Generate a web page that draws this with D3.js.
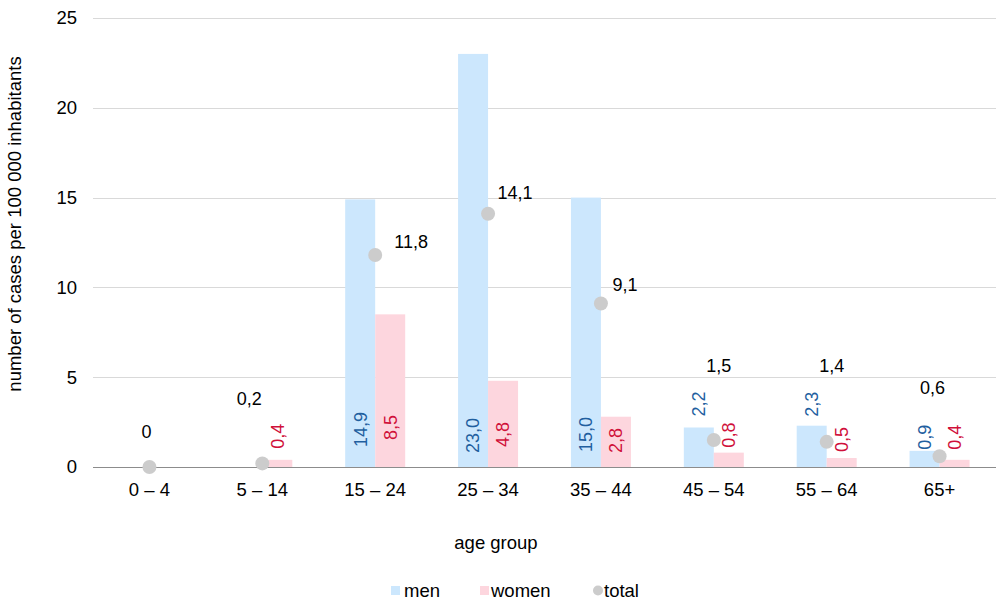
<!DOCTYPE html>
<html>
<head>
<meta charset="utf-8">
<script src="https://cdn.jsdelivr.net/npm/d3@7"></script>
<style>
  html, body { margin: 0; padding: 0; background: #fff; }
  svg { display: block; font-family: "Liberation Sans", Arial, sans-serif; }
</style>
</head>
<body>
<svg id="chart" width="997" height="603"></svg>
<script>
// Incidence per 100 000 inhabitants by age group
const ageGroups = ["0 – 4", "5 – 14", "15 – 24", "25 – 34", "35 – 44", "45 – 54", "55 – 64", "65+"];
const men   = [0, 0, 14.9, 23.0, 15.0, 2.2, 2.3, 0.9];
const women = [0, 0.4, 8.5, 4.8, 2.8, 0.8, 0.5, 0.4];
const total = [0, 0.2, 11.8, 14.1, 9.1, 1.5, 1.4, 0.6];
const yTicks = [0, 5, 10, 15, 20, 25];

// Hand-placed label positions.
// total labels: (dx, dy) of the label centre from its marker
const totalLabelOffset = [[-3, -35], [-13, -65], [36, -13], [27, -21], [24, -19], [5, -74], [5, -76], [-7, -69]];
// bar labels: tall bars -> distance of text start above baseline; short bars -> gap above bar top
const menLabelShift   = [0, 0, 20, 14, 15, 11, 9, 1];
const womenLabelShift = [0, 11, 27, 20, 14, 5, 6, 10];

const fmt = v => v === 0 ? "0" : v.toFixed(1).replace(".", ",");

const svg = d3.select("#chart");
const margin = { left: 93, right: 1, top: 18, bottom: 136 };
const W = 997, H = 603;
const plotBottom = H - margin.bottom; // 467

const x = d3.scaleBand().domain(ageGroups).range([margin.left, W - margin.right]);
const y = d3.scaleLinear().domain([0, 25]).range([plotBottom, margin.top]);
const barW = 30;
const cx = i => x(ageGroups[i]) + x.bandwidth() / 2;

// Gridlines
svg.append("g")
  .selectAll("line").data(yTicks.filter(t => t > 0)).join("line")
  .attr("x1", margin.left).attr("x2", W - margin.right)
  .attr("y1", d => Math.round(y(d)) + 0.5).attr("y2", d => Math.round(y(d)) + 0.5)
  .attr("stroke", "#d9d9d9").attr("stroke-width", 1);

// Y tick labels
svg.append("g")
  .selectAll("text").data(yTicks).join("text")
  .attr("x", 77).attr("y", d => y(d)).attr("dy", "0.35em")
  .attr("text-anchor", "end").attr("font-size", 18.5).attr("fill", "#000")
  .text(d => d);

const idx = d3.range(ageGroups.length);

// Bars: men
svg.append("g")
  .selectAll("rect").data(idx).join("rect")
  .attr("x", i => cx(i) - barW)
  .attr("y", i => y(men[i]))
  .attr("width", barW)
  .attr("height", i => plotBottom - y(men[i]))
  .attr("fill", "#cce7fd");

// Bars: women
svg.append("g")
  .selectAll("rect").data(idx).join("rect")
  .attr("x", i => cx(i))
  .attr("y", i => y(women[i]))
  .attr("width", barW)
  .attr("height", i => plotBottom - y(women[i]))
  .attr("fill", "#fdd6de");

// Baseline axis
svg.append("line")
  .attr("x1", margin.left).attr("x2", W - margin.right)
  .attr("y1", plotBottom + 0.5).attr("y2", plotBottom + 0.5)
  .attr("stroke", "#8c8c8c").attr("stroke-width", 1);

// Rotated value labels on bars: inside at the base for tall bars, above for short bars
function barLabels(values, shift, offset, color) {
  svg.append("g")
    .selectAll("text").data(idx.filter(i => values[i] > 0)).join("text")
    .attr("transform", i => {
      const inside = values[i] >= 2.5;
      const yy = inside ? plotBottom - shift[i] : y(values[i]) - shift[i];
      return `translate(${cx(i) + offset},${yy}) rotate(-90)`;
    })
    .attr("dy", "0.35em")
    .attr("text-anchor", "start")
    .attr("font-size", 18)
    .attr("fill", color)
    .text(i => fmt(values[i]));
}
barLabels(men, menLabelShift, -barW / 2, "#1f5f9f");
barLabels(women, womenLabelShift, barW / 2, "#d0103a");

// Total markers
svg.append("g")
  .selectAll("circle").data(idx).join("circle")
  .attr("cx", cx)
  .attr("cy", i => y(total[i]))
  .attr("r", 7)
  .attr("fill", "#cccccc");

// Total labels
svg.append("g")
  .selectAll("text").data(idx).join("text")
  .attr("x", i => cx(i) + totalLabelOffset[i][0])
  .attr("y", i => y(total[i]) + totalLabelOffset[i][1])
  .attr("dy", "0.35em")
  .attr("text-anchor", "middle")
  .attr("font-size", 18)
  .attr("fill", "#000")
  .text(i => fmt(total[i]));

// X tick labels
svg.append("g")
  .selectAll("text").data(ageGroups).join("text")
  .attr("x", d => x(d) + x.bandwidth() / 2)
  .attr("y", 496)
  .attr("text-anchor", "middle")
  .attr("font-size", 18.5)
  .attr("fill", "#000")
  .text(d => d);

// Axis titles
svg.append("text")
  .attr("x", 496).attr("y", 549)
  .attr("text-anchor", "middle").attr("font-size", 18.5).attr("fill", "#000")
  .text("age group");

svg.append("text")
  .attr("transform", "translate(21,224) rotate(-90)")
  .attr("text-anchor", "middle").attr("font-size", 18.5).attr("fill", "#000")
  .text("number of cases per 100 000 inhabitants");

// Legend
const legend = svg.append("g").attr("font-size", 18.5).attr("fill", "#000");
legend.append("rect").attr("x", 391).attr("y", 586).attr("width", 9).attr("height", 9).attr("fill", "#cce7fd");
legend.append("text").attr("x", 404).attr("y", 597).text("men");
legend.append("rect").attr("x", 480).attr("y", 586).attr("width", 9).attr("height", 9).attr("fill", "#fdd6de");
legend.append("text").attr("x", 491).attr("y", 597).text("women");
legend.append("circle").attr("cx", 598).attr("cy", 590.5).attr("r", 5).attr("fill", "#cccccc");
legend.append("text").attr("x", 604).attr("y", 597).text("total");
</script>
</body>
</html>
